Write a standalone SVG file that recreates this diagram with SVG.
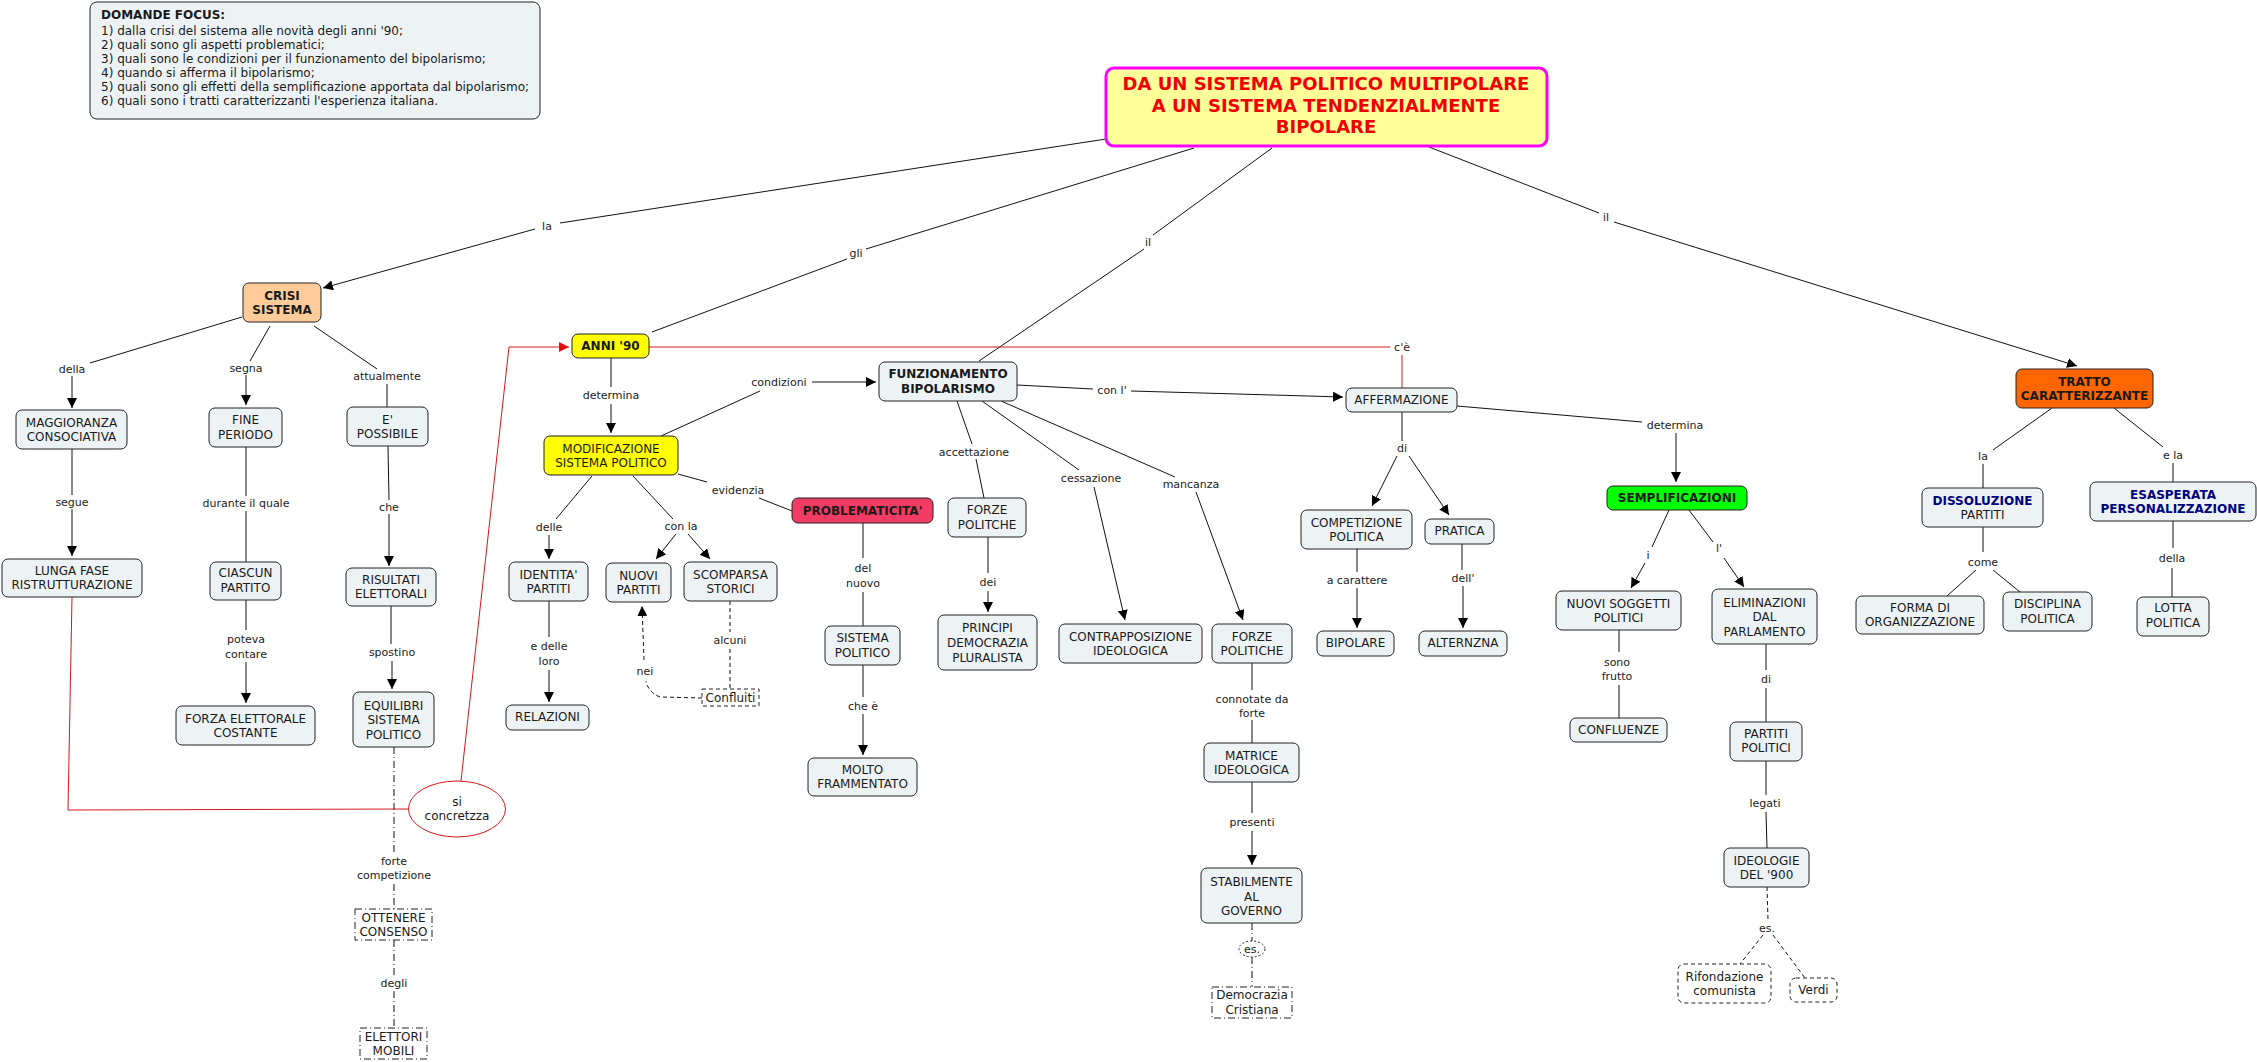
<svg xmlns="http://www.w3.org/2000/svg" width="2257" height="1062" viewBox="0 0 2257 1062">
<defs>
<marker id="a" viewBox="0 0 10 10" refX="10" refY="5" markerWidth="10" markerHeight="10" markerUnits="userSpaceOnUse" orient="auto"><path d="M0,0 L10,5 L0,10 z" fill="#000"/></marker>
<marker id="ar" viewBox="0 0 10 10" refX="10" refY="5" markerWidth="10" markerHeight="10" markerUnits="userSpaceOnUse" orient="auto"><path d="M0,0 L10,5 L0,10 z" fill="#E01010"/></marker>
</defs>
<style>
text{font-family:"DejaVu Sans",Verdana,sans-serif;fill:#1a1a1a}
.n rect{fill:#EDF3F5;stroke:#222;stroke-width:1}
.n text{font-size:12px;text-anchor:middle}
.bo{font-weight:bold}
.nv{fill:#000080;font-weight:bold}
.lb{font-size:11px;text-anchor:middle}
.c line,.c path,.c polyline{stroke:#111;stroke-width:1;fill:none}
.c .r{stroke:#D01818}
.c .d{stroke-dasharray:4 3}
.c .dd{stroke-dasharray:7 3 1 3}
.n rect.dr{fill:#fff;stroke-dasharray:4 3}
.n rect.ddr{fill:#fff;stroke-dasharray:7 3 1 3}
</style>
<rect width="2257" height="1062" fill="#fff"/>

<g id="connectors" class="c">
<line x1="1106" y1="139" x2="560" y2="223"/>
<line x1="535" y1="229" x2="323" y2="288" marker-end="url(#a)"/>
<line x1="1194" y1="148" x2="866" y2="249"/>
<line x1="847" y1="259" x2="652" y2="332"/>
<line x1="1272" y1="148" x2="1153" y2="235"/>
<line x1="1144" y1="249" x2="979" y2="361"/>
<line x1="1429" y1="147" x2="1599" y2="213"/>
<line x1="1614" y1="222" x2="2077" y2="366" marker-end="url(#a)"/>
<line x1="242" y1="317" x2="90" y2="363"/>
<line x1="72" y1="376" x2="72" y2="408" marker-end="url(#a)"/>
<line x1="270" y1="326" x2="250" y2="361"/>
<line x1="246" y1="375" x2="246" y2="405" marker-end="url(#a)"/>
<line x1="314" y1="326" x2="377" y2="369"/>
<line x1="387" y1="384" x2="387" y2="407"/>
<line x1="72" y1="449" x2="72" y2="495"/>
<line x1="72" y1="509" x2="72" y2="556" marker-end="url(#a)"/>
<line x1="246" y1="447" x2="246" y2="496"/>
<line x1="246" y1="511" x2="246" y2="562"/>
<line x1="388" y1="446" x2="389" y2="500"/>
<line x1="389" y1="514" x2="389" y2="566" marker-end="url(#a)"/>
<line x1="246" y1="600" x2="246" y2="630"/>
<line x1="246" y1="662" x2="246" y2="703" marker-end="url(#a)"/>
<line x1="391" y1="606" x2="391" y2="644"/>
<line x1="392" y1="661" x2="392" y2="689" marker-end="url(#a)"/>
<line class="dd" x1="394" y1="747" x2="394" y2="852"/>
<line class="dd" x1="394" y1="884" x2="394" y2="909"/>
<line class="dd" x1="394" y1="940" x2="394" y2="975"/>
<line class="dd" x1="394" y1="991" x2="394" y2="1028"/>
<line x1="611" y1="358" x2="611" y2="387"/>
<line x1="611" y1="404" x2="611" y2="433" marker-end="url(#a)"/>
<line x1="661" y1="436" x2="760" y2="391"/>
<line x1="812" y1="382" x2="876" y2="382" marker-end="url(#a)"/>
<line x1="678" y1="474" x2="707" y2="482"/>
<line x1="759" y1="498" x2="792" y2="511"/>
<line x1="592" y1="476" x2="556" y2="519"/>
<line x1="549" y1="535" x2="549" y2="559" marker-end="url(#a)"/>
<line x1="633" y1="476" x2="673" y2="519"/>
<line x1="676" y1="534" x2="656" y2="559" marker-end="url(#a)"/>
<line x1="688" y1="534" x2="710" y2="559" marker-end="url(#a)"/>
<line x1="549" y1="601" x2="549" y2="637"/>
<line x1="549" y1="670" x2="549" y2="702" marker-end="url(#a)"/>
<line class="d" x1="730" y1="601" x2="730" y2="632"/>
<line class="d" x1="730" y1="649" x2="730" y2="689"/>
<path class="d" d="M702,698 L660,697 Q648,692 646,681"/>
<line class="d" x1="644" y1="660" x2="642" y2="606" marker-end="url(#a)"/>
<line x1="863" y1="523" x2="863" y2="558"/>
<line x1="863" y1="592" x2="863" y2="626"/>
<line x1="863" y1="665" x2="863" y2="697"/>
<line x1="863" y1="714" x2="863" y2="755" marker-end="url(#a)"/>
<line x1="957" y1="401" x2="972" y2="444"/>
<line x1="976" y1="459" x2="984" y2="498"/>
<line x1="988" y1="537" x2="988" y2="573"/>
<line x1="988" y1="591" x2="988" y2="612" marker-end="url(#a)"/>
<line x1="1017" y1="385" x2="1093" y2="389"/>
<line x1="1131" y1="391" x2="1343" y2="397" marker-end="url(#a)"/>
<line x1="982" y1="401" x2="1079" y2="470"/>
<line x1="1094" y1="487" x2="1125" y2="620" marker-end="url(#a)"/>
<line x1="1001" y1="401" x2="1175" y2="477"/>
<line x1="1196" y1="492" x2="1243" y2="620" marker-end="url(#a)"/>
<line class="r" x1="649" y1="347" x2="1390" y2="347"/>
<line class="r" x1="1402" y1="355" x2="1402" y2="388"/>
<line x1="1402" y1="412" x2="1402" y2="441"/>
<line x1="1397" y1="456" x2="1372" y2="506" marker-end="url(#a)"/>
<line x1="1409" y1="456" x2="1449" y2="515" marker-end="url(#a)"/>
<line x1="1357" y1="549" x2="1357" y2="572"/>
<line x1="1357" y1="588" x2="1357" y2="628" marker-end="url(#a)"/>
<line x1="1462" y1="544" x2="1462" y2="570"/>
<line x1="1463" y1="586" x2="1463" y2="628" marker-end="url(#a)"/>
<line x1="1252" y1="663" x2="1252" y2="690"/>
<line x1="1252" y1="720" x2="1252" y2="743"/>
<line x1="1252" y1="782" x2="1252" y2="813"/>
<line x1="1252" y1="831" x2="1252" y2="865" marker-end="url(#a)"/>
<line class="dd" x1="1252" y1="923" x2="1252" y2="941"/>
<line class="dd" x1="1252" y1="957" x2="1252" y2="987"/>
<line x1="1457" y1="406" x2="1642" y2="422"/>
<line x1="1676" y1="433" x2="1676" y2="482" marker-end="url(#a)"/>
<line x1="1669" y1="510" x2="1652" y2="547"/>
<line x1="1645" y1="563" x2="1631" y2="588" marker-end="url(#a)"/>
<line x1="1689" y1="510" x2="1713" y2="542"/>
<line x1="1724" y1="558" x2="1744" y2="587" marker-end="url(#a)"/>
<line x1="1619" y1="630" x2="1619" y2="652"/>
<line x1="1619" y1="685" x2="1619" y2="718"/>
<line x1="1766" y1="644" x2="1766" y2="670"/>
<line x1="1766" y1="688" x2="1766" y2="722"/>
<line x1="1766" y1="761" x2="1766" y2="795"/>
<line x1="1766" y1="812" x2="1767" y2="848"/>
<line class="d" x1="1767" y1="887" x2="1768" y2="919"/>
<line class="d" x1="1763" y1="935" x2="1740" y2="964"/>
<line class="d" x1="1773" y1="935" x2="1805" y2="978"/>
<line x1="2052" y1="408" x2="1993" y2="450"/>
<line x1="1983" y1="464" x2="1983" y2="488"/>
<line x1="2114" y1="408" x2="2163" y2="447"/>
<line x1="2173" y1="463" x2="2173" y2="482"/>
<line x1="1983" y1="527" x2="1983" y2="552"/>
<line x1="1976" y1="570" x2="1947" y2="596"/>
<line x1="1993" y1="570" x2="2020" y2="592"/>
<line x1="2173" y1="521" x2="2173" y2="548"/>
<line x1="2172" y1="568" x2="2172" y2="597"/>
<polyline class="r" points="72,597 68,810 408,809"/>
<polyline class="r" points="461,781 509,347 569,347" marker-end="url(#ar)"/>
</g>

<g id="link-labels">
<text class="lb" x="547" y="230">la</text>
<text class="lb" x="856" y="257">gli</text>
<text class="lb" x="1148" y="246">il</text>
<text class="lb" x="1606" y="221">il</text>
<text class="lb" x="72" y="373">della</text>
<text class="lb" x="246" y="372">segna</text>
<text class="lb" x="387" y="380">attualmente</text>
<text class="lb" x="72" y="506">segue</text>
<text class="lb" x="246" y="507">durante il quale</text>
<text class="lb" x="389" y="511">che</text>
<text class="lb" x="246" y="643">poteva</text>
<text class="lb" x="246" y="658">contare</text>
<text class="lb" x="392" y="656">spostino</text>
<text class="lb" x="394" y="865">forte</text>
<text class="lb" x="394" y="879">competizione</text>
<text class="lb" x="394" y="987">degli</text>
<text class="lb" x="611" y="399">determina</text>
<text class="lb" x="779" y="386">condizioni</text>
<text class="lb" x="738" y="494">evidenzia</text>
<text class="lb" x="549" y="531">delle</text>
<text class="lb" x="681" y="530">con la</text>
<text class="lb" x="549" y="650">e delle</text>
<text class="lb" x="549" y="665">loro</text>
<text class="lb" x="645" y="675">nei</text>
<text class="lb" x="730" y="644">alcuni</text>
<text class="lb" x="863" y="572">del</text>
<text class="lb" x="863" y="587">nuovo</text>
<text class="lb" x="863" y="710">che è</text>
<text class="lb" x="974" y="456">accettazione</text>
<text class="lb" x="988" y="586">dei</text>
<text class="lb" x="1402" y="351">c'è</text>
<text class="lb" x="1112" y="394">con l'</text>
<text class="lb" x="1091" y="482">cessazione</text>
<text class="lb" x="1191" y="488">mancanza</text>
<text class="lb" x="1402" y="452">di</text>
<text class="lb" x="1357" y="584">a carattere</text>
<text class="lb" x="1463" y="582">dell'</text>
<text class="lb" x="1252" y="703">connotate da</text>
<text class="lb" x="1252" y="717">forte</text>
<text class="lb" x="1252" y="826">presenti</text>
<ellipse cx="1252" cy="949" rx="13" ry="8" fill="#fff" stroke="#222" stroke-dasharray="2 2"/>
<text class="lb" x="1252" y="953">es.</text>
<text class="lb" x="1675" y="429">determina</text>
<text class="lb" x="1648" y="559">i</text>
<text class="lb" x="1719" y="552">l'</text>
<text class="lb" x="1617" y="666">sono</text>
<text class="lb" x="1617" y="680">frutto</text>
<text class="lb" x="1766" y="683">di</text>
<text class="lb" x="1765" y="807">legati</text>
<text class="lb" x="1767" y="932">es.</text>
<text class="lb" x="1983" y="460">la</text>
<text class="lb" x="2173" y="459">e la</text>
<text class="lb" x="1983" y="566">come</text>
<text class="lb" x="2172" y="562">della</text>
</g>

<g id="focus" class="n"><rect x="90" y="2" width="450" height="117" rx="7"/>
<text style="text-anchor:start;font-size:12px"><tspan x="101" y="19" font-weight="bold">DOMANDE FOCUS:</tspan><tspan x="101" y="35">1) dalla crisi del sistema alle novità degli anni '90;</tspan><tspan x="101" y="49">2) quali sono gli aspetti problematici;</tspan><tspan x="101" y="63">3) quali sono le condizioni per il funzionamento del bipolarismo;</tspan><tspan x="101" y="77">4) quando si afferma il bipolarismo;</tspan><tspan x="101" y="91">5) quali sono gli effetti della semplificazione apportata dal bipolarismo;</tspan><tspan x="101" y="105">6) quali sono i tratti caratterizzanti l'esperienza italiana.</tspan></text></g>

<g id="title"><rect x="1106" y="68" width="441" height="78" rx="8" fill="#FFFF99" stroke="#FF00FF" stroke-width="3"/>
<text style="font-size:18px;font-weight:bold;text-anchor:middle;fill:#F00000"><tspan x="1326" y="90">DA UN SISTEMA POLITICO MULTIPOLARE</tspan><tspan x="1326" y="112">A UN SISTEMA TENDENZIALMENTE</tspan><tspan x="1326" y="133">BIPOLARE</tspan></text></g>

<g id="crisi" class="n"><rect x="243" y="283" width="78" height="39" rx="6" style="fill:#FFCC99"/><text class="bo"><tspan x="282" y="300">CRISI</tspan><tspan x="282" y="314">SISTEMA</tspan></text></g>
<g id="maggioranza" class="n"><rect x="16" y="410" width="111" height="39" rx="6"/><text><tspan x="71.5" y="427">MAGGIORANZA</tspan><tspan x="71.5" y="441">CONSOCIATIVA</tspan></text></g>
<g id="fine" class="n"><rect x="209" y="408" width="73" height="39" rx="6"/><text><tspan x="245.5" y="424">FINE</tspan><tspan x="245.5" y="439">PERIODO</tspan></text></g>
<g id="possibile" class="n"><rect x="347" y="407" width="81" height="39" rx="6"/><text><tspan x="387.5" y="424">E'</tspan><tspan x="387.5" y="438">POSSIBILE</tspan></text></g>
<g id="lunga" class="n"><rect x="2" y="559" width="140" height="38" rx="6"/><text><tspan x="72" y="575">LUNGA FASE</tspan><tspan x="72" y="589">RISTRUTTURAZIONE</tspan></text></g>
<g id="ciascun" class="n"><rect x="210" y="562" width="71" height="38" rx="6"/><text><tspan x="245.5" y="577">CIASCUN</tspan><tspan x="245.5" y="592">PARTITO</tspan></text></g>
<g id="risultati" class="n"><rect x="346" y="568" width="90" height="38" rx="6"/><text><tspan x="391" y="584">RISULTATI</tspan><tspan x="391" y="598">ELETTORALI</tspan></text></g>
<g id="forza" class="n"><rect x="176" y="706" width="139" height="39" rx="6"/><text><tspan x="245.5" y="723">FORZA ELETTORALE</tspan><tspan x="245.5" y="737">COSTANTE</tspan></text></g>
<g id="equilibri" class="n"><rect x="353" y="692" width="81" height="55" rx="6"/><text><tspan x="393.5" y="710">EQUILIBRI</tspan><tspan x="393.5" y="724">SISTEMA</tspan><tspan x="393.5" y="739">POLITICO</tspan></text></g>
<g id="ottenere" class="n"><rect class="ddr" x="355" y="909" width="77" height="31"/><text><tspan x="393.5" y="922">OTTENERE</tspan><tspan x="393.5" y="936">CONSENSO</tspan></text></g>
<g id="elettori" class="n"><rect class="ddr" x="360" y="1028" width="67" height="31"/><text><tspan x="393.5" y="1041">ELETTORI</tspan><tspan x="393.5" y="1055">MOBILI</tspan></text></g>
<g id="concretzza" class="n"><ellipse cx="457" cy="809" rx="48.5" ry="28" fill="#fff" stroke="#D01818"/><text><tspan x="457" y="806">si</tspan><tspan x="457" y="820">concretzza</tspan></text></g>
<g id="anni90" class="n"><rect x="572" y="334" width="77" height="24" rx="6" style="fill:#FFFF00"/><text class="bo" x="610.5" y="350">ANNI '90</text></g>
<g id="modificazione" class="n"><rect x="544" y="436" width="134" height="39" rx="6" style="fill:#FFFF00"/><text><tspan x="611" y="453">MODIFICAZIONE</tspan><tspan x="611" y="467">SISTEMA POLITICO</tspan></text></g>
<g id="funzionamento" class="n"><rect x="879" y="362" width="138" height="39" rx="6"/><text class="bo"><tspan x="948" y="378">FUNZIONAMENTO</tspan><tspan x="948" y="393">BIPOLARISMO</tspan></text></g>
<g id="problematicita" class="n"><rect x="792" y="498" width="141" height="25" rx="6" style="fill:#F23C64"/><text class="bo" x="862.5" y="515">PROBLEMATICITA'</text></g>
<g id="identita" class="n"><rect x="509" y="562" width="79" height="39" rx="6"/><text><tspan x="548.5" y="579">IDENTITA'</tspan><tspan x="548.5" y="593">PARTITI</tspan></text></g>
<g id="nuovi" class="n"><rect x="606" y="563" width="65" height="39" rx="6"/><text><tspan x="638.5" y="580">NUOVI</tspan><tspan x="638.5" y="594">PARTITI</tspan></text></g>
<g id="scomparsa" class="n"><rect x="684" y="562" width="93" height="39" rx="6"/><text><tspan x="730.5" y="579">SCOMPARSA</tspan><tspan x="730.5" y="593">STORICI</tspan></text></g>
<g id="relazioni" class="n"><rect x="506" y="705" width="83" height="25" rx="6"/><text x="547.5" y="721">RELAZIONI</text></g>
<g id="confluiti" class="n"><rect class="dr" x="702" y="689" width="57" height="17"/><text x="730.5" y="702">Confluiti</text></g>
<g id="forze1" class="n"><rect x="948" y="498" width="78" height="39" rx="6"/><text><tspan x="987" y="514">FORZE</tspan><tspan x="987" y="529">POLITCHE</tspan></text></g>
<g id="principi" class="n"><rect x="938" y="615" width="99" height="55" rx="6"/><text><tspan x="987.5" y="632">PRINCIPI</tspan><tspan x="987.5" y="647">DEMOCRAZIA</tspan><tspan x="987.5" y="662">PLURALISTA</tspan></text></g>
<g id="sistema" class="n"><rect x="825" y="626" width="75" height="39" rx="6"/><text><tspan x="862.5" y="642">SISTEMA</tspan><tspan x="862.5" y="657">POLITICO</tspan></text></g>
<g id="molto" class="n"><rect x="808" y="758" width="109" height="38" rx="6"/><text><tspan x="862.5" y="774">MOLTO</tspan><tspan x="862.5" y="788">FRAMMENTATO</tspan></text></g>
<g id="affermazione" class="n"><rect x="1346" y="388" width="111" height="24" rx="6"/><text x="1401.5" y="404">AFFERMAZIONE</text></g>
<g id="contrapposizione" class="n"><rect x="1059" y="624" width="143" height="39" rx="6"/><text><tspan x="1130.5" y="641">CONTRAPPOSIZIONE</tspan><tspan x="1130.5" y="655">IDEOLOGICA</tspan></text></g>
<g id="forze2" class="n"><rect x="1212" y="624" width="80" height="39" rx="6"/><text><tspan x="1252" y="641">FORZE</tspan><tspan x="1252" y="655">POLITICHE</tspan></text></g>
<g id="competizione" class="n"><rect x="1301" y="510" width="111" height="39" rx="6"/><text><tspan x="1356.5" y="527">COMPETIZIONE</tspan><tspan x="1356.5" y="541">POLITICA</tspan></text></g>
<g id="pratica" class="n"><rect x="1425" y="519" width="69" height="25" rx="6"/><text x="1459.5" y="535">PRATICA</text></g>
<g id="bipolare" class="n"><rect x="1317" y="631" width="77" height="25" rx="6"/><text x="1355.5" y="647">BIPOLARE</text></g>
<g id="alternzna" class="n"><rect x="1419" y="631" width="88" height="25" rx="6"/><text x="1463" y="647">ALTERNZNA</text></g>
<g id="matrice" class="n"><rect x="1204" y="743" width="95" height="39" rx="6"/><text><tspan x="1251.5" y="760">MATRICE</tspan><tspan x="1251.5" y="774">IDEOLOGICA</tspan></text></g>
<g id="stabilmente" class="n"><rect x="1201" y="868" width="101" height="55" rx="6"/><text><tspan x="1251.5" y="886">STABILMENTE</tspan><tspan x="1251.5" y="901">AL</tspan><tspan x="1251.5" y="915">GOVERNO</tspan></text></g>
<g id="democrazia" class="n"><rect class="ddr" x="1212" y="987" width="80" height="31"/><text><tspan x="1252" y="999">Democrazia</tspan><tspan x="1252" y="1014">Cristiana</tspan></text></g>
<g id="semplificazioni" class="n"><rect x="1607" y="486" width="140" height="24" rx="6" style="fill:#00FF00"/><text class="bo" x="1677" y="502">SEMPLIFICAZIONI</text></g>
<g id="nuovisoggetti" class="n"><rect x="1556" y="591" width="125" height="39" rx="6"/><text><tspan x="1618.5" y="608">NUOVI SOGGETTI</tspan><tspan x="1618.5" y="622">POLITICI</tspan></text></g>
<g id="eliminazioni" class="n"><rect x="1712" y="589" width="105" height="55" rx="6"/><text><tspan x="1764.5" y="607">ELIMINAZIONI</tspan><tspan x="1764.5" y="621">DAL</tspan><tspan x="1764.5" y="636">PARLAMENTO</tspan></text></g>
<g id="confluenze" class="n"><rect x="1570" y="718" width="97" height="24" rx="6"/><text x="1618.5" y="734">CONFLUENZE</text></g>
<g id="partiti" class="n"><rect x="1730" y="722" width="72" height="39" rx="6"/><text><tspan x="1766" y="738">PARTITI</tspan><tspan x="1766" y="752">POLITICI</tspan></text></g>
<g id="ideologie" class="n"><rect x="1724" y="848" width="85" height="39" rx="6"/><text><tspan x="1766.5" y="865">IDEOLOGIE</tspan><tspan x="1766.5" y="879">DEL '900</tspan></text></g>
<g id="rifondazione" class="n"><rect class="dr" x="1678" y="964" width="93" height="39" rx="6"/><text><tspan x="1724.5" y="981">Rifondazione</tspan><tspan x="1724.5" y="995">comunista</tspan></text></g>
<g id="verdi" class="n"><rect class="dr" x="1790" y="978" width="47" height="24" rx="6"/><text x="1813.5" y="994">Verdi</text></g>
<g id="tratto" class="n"><rect x="2016" y="369" width="137" height="39" rx="6" style="fill:#FF6600"/><text class="bo"><tspan x="2084.5" y="386">TRATTO</tspan><tspan x="2084.5" y="400">CARATTERIZZANTE</tspan></text></g>
<g id="dissoluzione" class="n"><rect x="1922" y="488" width="121" height="39" rx="6"/><text><tspan class="nv" x="1982.5" y="505">DISSOLUZIONE</tspan><tspan x="1982.5" y="519">PARTITI</tspan></text></g>
<g id="esasperata" class="n"><rect x="2090" y="482" width="166" height="39" rx="6"/><text class="nv"><tspan x="2173" y="499">ESASPERATA</tspan><tspan x="2173" y="513">PERSONALIZZAZIONE</tspan></text></g>
<g id="forma" class="n"><rect x="1856" y="596" width="128" height="38" rx="6"/><text><tspan x="1920" y="612">FORMA DI</tspan><tspan x="1920" y="626">ORGANIZZAZIONE</tspan></text></g>
<g id="disciplina" class="n"><rect x="2003" y="592" width="89" height="39" rx="6"/><text><tspan x="2047.5" y="608">DISCIPLINA</tspan><tspan x="2047.5" y="623">POLITICA</tspan></text></g>
<g id="lotta" class="n"><rect x="2137" y="597" width="72" height="39" rx="6"/><text><tspan x="2173" y="612">LOTTA</tspan><tspan x="2173" y="627">POLITICA</tspan></text></g>
</svg>
